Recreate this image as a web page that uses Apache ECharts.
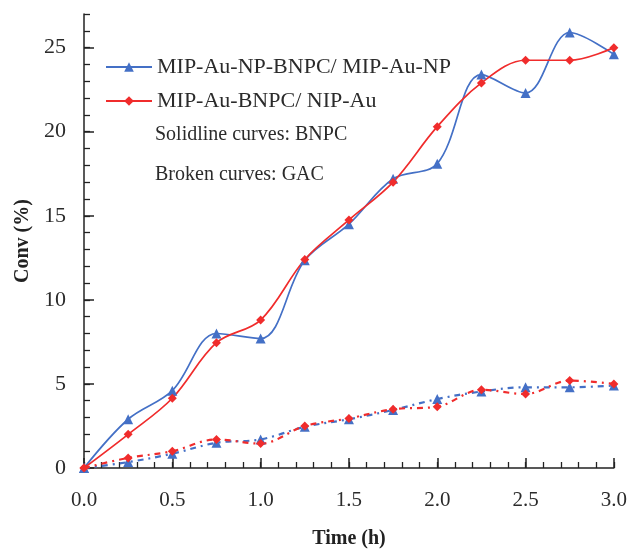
<!DOCTYPE html>
<html>
<head>
<meta charset="utf-8">
<script src="https://cdn.jsdelivr.net/npm/echarts@6/dist/echarts.min.js"></script>
<style>
  html, body { margin: 0; padding: 0; background: #fff; }
  #chart { width: 630px; height: 554px; }
</style>
</head>
<body>
<div id="chart"></div>
<script>
// Sampling times (h)
const times = [0, 0.25, 0.5, 0.75, 1.0, 1.25, 1.5, 1.75, 2.0, 2.25, 2.5, 2.75, 3.0];

// Conversion (%) — BNPC supports (solid curves)
const mipAuNpBnpc = [0, 2.9, 4.6, 8.0, 7.7, 12.35, 14.5, 17.2, 18.1, 23.4, 22.3, 25.9, 24.6];
const mipAuBnpc   = [0, 2.0, 4.15, 7.45, 8.8, 12.4, 14.75, 17.0, 20.3, 22.9, 24.25, 24.25, 25.0];

// Conversion (%) — GAC supports (broken curves)
const mipAuNpGac = [0, 0.35, 0.85, 1.5, 1.7, 2.45, 2.9, 3.45, 4.1, 4.55, 4.8, 4.8, 4.9];
const mipAuGac   = [0, 0.6, 1.0, 1.7, 1.45, 2.5, 2.95, 3.5, 3.65, 4.65, 4.4, 5.2, 5.0];

const seriesNames = ['MIP-Au-NP-BNPC/ MIP-Au-NP', 'MIP-Au-BNPC/ NIP-Au'];
const xLabelValues = [0, 0.5, 1.0, 1.5, 2.0, 2.5, 3.0];
const yLabelValues = [0, 5, 10, 15, 20, 25];
const notes = ['Solidline curves: BNPC', 'Broken curves: GAC'];

const BLUE = '#4470c6';
const RED = '#f02c2c';
const FONT = '"Liberation Serif", "DejaVu Serif", serif';

const pair = (vals) => times.map((t, i) => [t, vals[i]]);

const chart = echarts.init(document.getElementById('chart'));

function makeSeries(name, vals, color, symbol, size, dashed) {
  return {
    name: name,
    type: 'line',
    data: pair(vals),
    smooth: 0.35,
    symbol: symbol,
    symbolSize: size,
    showSymbol: true,
    itemStyle: { color: color },
    lineStyle: dashed
      ? { color: color, width: 2.2, type: [6, 5, 2, 5] }
      : { color: color, width: 1.7 },
    emphasis: { disabled: true },
    animation: false,
    z: dashed ? 2 : 3
  };
}

chart.setOption({
  backgroundColor: '#ffffff',
  animation: false,
  grid: { left: 84, right: 8, top: 14, bottom: 83, containLabel: false },
  legend: {
    data: seriesNames,
    orient: 'vertical',
    left: 100,
    top: 51,
    itemWidth: 46,
    itemHeight: 12,
    itemGap: 12,
    textStyle: { fontFamily: FONT, fontSize: 22, color: '#2b2b2b' },
    selectedMode: false
  },
  graphic: notes.map((t, i) => ({
    type: 'text',
    x: 155,
    y: 135 + i * 40,
    style: { text: t, font: '20px ' + FONT, fill: '#2b2b2b', verticalAlign: 'middle' }
  })),
  xAxis: [
    {
      type: 'value', min: 0, max: 3, interval: 0.1,
      name: 'Time (h)', nameLocation: 'middle', nameGap: 61,
      nameTextStyle: { fontFamily: FONT, fontSize: 20, fontWeight: 'bold', color: '#222' },
      axisLine: { lineStyle: { color: '#222', width: 1.5 } },
      axisTick: { inside: true, length: 6, lineStyle: { color: '#222', width: 1.3 } },
      axisLabel: {
        customValues: xLabelValues, margin: 22,
        fontFamily: FONT, fontSize: 21, color: '#2b2b2b',
        formatter: (v) => v.toFixed(1)
      },
      splitLine: { show: false }
    },
    {
      type: 'value', min: 0, max: 3, position: 'bottom',
      axisLine: { show: false },
      axisTick: { show: true, inside: true, length: 10, customValues: xLabelValues, lineStyle: { color: '#222', width: 1.5 } },
      axisLabel: { show: false },
      splitLine: { show: false }
    }
  ],
  yAxis: [
    {
      type: 'value', min: 0, max: 27, interval: 1,
      name: 'Conv (%)', nameLocation: 'middle', nameGap: 51, nameRotate: 90,
      nameTextStyle: { fontFamily: FONT, fontSize: 20, fontWeight: 'bold', color: '#222' },
      axisLine: { show: true, lineStyle: { color: '#222', width: 1.5 } },
      axisTick: { show: true, inside: true, length: 6, lineStyle: { color: '#222', width: 1.3 } },
      axisLabel: {
        customValues: yLabelValues, margin: 18,
        fontFamily: FONT, fontSize: 22, color: '#2b2b2b'
      },
      splitLine: { show: false }
    },
    {
      type: 'value', min: 0, max: 27, position: 'left',
      axisLine: { show: false },
      axisTick: { show: true, inside: true, length: 10, customValues: yLabelValues, lineStyle: { color: '#222', width: 1.5 } },
      axisLabel: { show: false },
      splitLine: { show: false }
    }
  ],
  series: [
    makeSeries(seriesNames[0], mipAuNpBnpc, BLUE, 'triangle', 10, false),
    makeSeries(seriesNames[1], mipAuBnpc, RED, 'diamond', 9, false),
    makeSeries(seriesNames[0], mipAuNpGac, BLUE, 'triangle', 10, true),
    makeSeries(seriesNames[1], mipAuGac, RED, 'diamond', 9, true)
  ]
});
</script>
</body>
</html>
